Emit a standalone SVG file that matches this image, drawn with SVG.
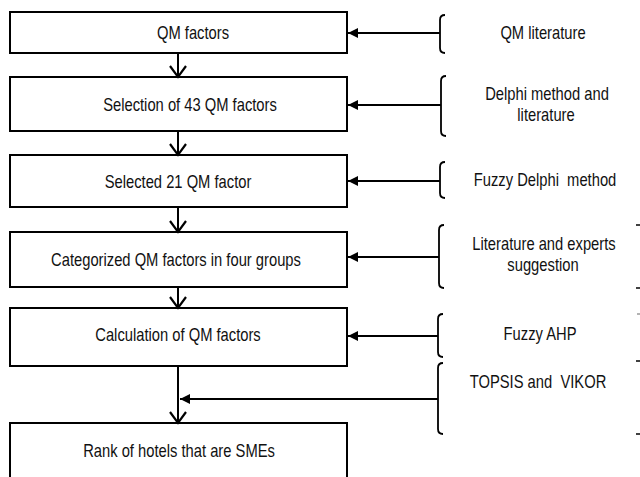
<svg xmlns="http://www.w3.org/2000/svg" width="640" height="477" viewBox="0 0 640 477">
  <style>
    .box { fill: #ffffff; stroke: #000000; stroke-width: 2; }
    .line { fill: none; stroke: #000000; stroke-width: 2; }
    .brace { fill: none; stroke: #000000; stroke-width: 1.8; }
    .tick { stroke: #000000; stroke-width: 1.5; }
    text { font-family: "Liberation Sans", Arial, sans-serif; font-size: 18px; fill: #111111; text-anchor: middle; white-space: pre; }
  </style>
  <defs>
    <marker id="solid" markerUnits="userSpaceOnUse" markerWidth="12" markerHeight="12" refX="10" refY="5" orient="auto" overflow="visible">
      <path d="M0,0 L10,5 L0,10 Z" fill="#000000"/>
    </marker>
    <marker id="open" markerUnits="userSpaceOnUse" markerWidth="16" markerHeight="20" refX="12" refY="10" orient="auto" overflow="visible">
      <path d="M1,2 L12,10 L1,18" fill="none" stroke="#000000" stroke-width="2.2"/>
    </marker>
  </defs>

  <rect width="640" height="477" fill="#ffffff"/>

  <!-- process steps -->
  <g id="step-qm-factors">
    <rect class="box" x="10" y="12" width="337" height="41"/>
    <text transform="translate(193,39) scale(0.82,1)">QM factors</text>
  </g>
  <g id="step-selection-43">
    <rect class="box" x="10" y="77" width="337" height="54"/>
    <text transform="translate(190,111) scale(0.82,1)">Selection of 43 QM factors</text>
  </g>
  <g id="step-selected-21">
    <rect class="box" x="10" y="155" width="337" height="52"/>
    <text transform="translate(178,188) scale(0.82,1)">Selected 21 QM factor</text>
  </g>
  <g id="step-categorized">
    <rect class="box" x="10" y="232" width="337" height="55"/>
    <text transform="translate(176,266) scale(0.82,1)">Categorized QM factors in four groups</text>
  </g>
  <g id="step-calculation">
    <rect class="box" x="10" y="308" width="337" height="58"/>
    <text transform="translate(178,341) scale(0.82,1)">Calculation of QM factors</text>
  </g>
  <g id="step-rank">
    <rect class="box" x="10" y="423" width="337" height="80"/>
    <text transform="translate(179,457) scale(0.82,1)">Rank of hotels that are SMEs</text>
  </g>

  <!-- inputs with braces -->
  <g id="input-qm-literature">
    <path class="brace" d="M445,15 Q440,15 440,20 L440,48 Q440,53 445,53"/>
    <text transform="translate(543,39) scale(0.82,1)">QM literature</text>
  </g>
  <g id="input-delphi">
    <path class="brace" d="M446,76 Q441,76 441,81 L441,131 Q441,136 446,136"/>
    <text transform="translate(547,100) scale(0.82,1)">Delphi method and</text>
    <text transform="translate(546,121) scale(0.82,1)">literature</text>
  </g>
  <g id="input-fuzzy-delphi">
    <path class="brace" d="M445,162 Q440,162 440,167 L440,193 Q440,198 445,198"/>
    <text transform="translate(545,186) scale(0.82,1)" xml:space="preserve">Fuzzy Delphi  method</text>
  </g>
  <g id="input-experts">
    <path class="brace" d="M444,225 Q439,225 439,230 L439,283 Q439,288 444,288"/>
    <text transform="translate(544,250) scale(0.82,1)">Literature and experts</text>
    <text transform="translate(543,271) scale(0.82,1)">suggestion</text>
  </g>
  <g id="input-fuzzy-ahp">
    <path class="brace" d="M443,314 Q438,314 438,319 L438,352 Q438,357 443,357"/>
    <text transform="translate(540,340) scale(0.82,1)">Fuzzy AHP</text>
  </g>
  <g id="input-topsis-vikor">
    <path class="brace" d="M443,363 Q438,363 438,368 L438,429 Q438,434 443,434"/>
    <text transform="translate(538,388) scale(0.82,1)" xml:space="preserve">TOPSIS and  VIKOR</text>
  </g>

  <!-- connectors -->
  <g id="connectors">
    <line class="line" x1="178" y1="53" x2="178" y2="77" marker-end="url(#open)"/>
    <line class="line" x1="178" y1="131" x2="178" y2="155" marker-end="url(#open)"/>
    <line class="line" x1="178" y1="207" x2="178" y2="232" marker-end="url(#open)"/>
    <line class="line" x1="178" y1="287" x2="178" y2="308" marker-end="url(#open)"/>
    <line class="line" x1="178" y1="366" x2="178" y2="423" marker-end="url(#open)"/>

    <line class="line" x1="440" y1="33" x2="348" y2="33" marker-end="url(#solid)"/>
    <line class="line" x1="441" y1="105" x2="348" y2="105" marker-end="url(#solid)"/>
    <line class="line" x1="440" y1="181" x2="348" y2="181" marker-end="url(#solid)"/>
    <line class="line" x1="439" y1="257" x2="348" y2="257" marker-end="url(#solid)"/>
    <line class="line" x1="438" y1="336" x2="348" y2="336" marker-end="url(#solid)"/>
    <line class="line" x1="438" y1="399" x2="180" y2="399" marker-end="url(#solid)"/>
  </g>

  <!-- small marks along the right edge -->
  <g id="edge-ticks">
    <line class="tick" x1="636" y1="225" x2="640" y2="225"/>
    <line class="tick" x1="636" y1="288" x2="640" y2="288"/>
    <line class="tick" x1="637" y1="314" x2="640" y2="314" stroke-opacity="0.4"/>
    <line class="tick" x1="636" y1="361" x2="640" y2="361"/>
    <line class="tick" x1="636" y1="434" x2="640" y2="434"/>
  </g>
</svg>
